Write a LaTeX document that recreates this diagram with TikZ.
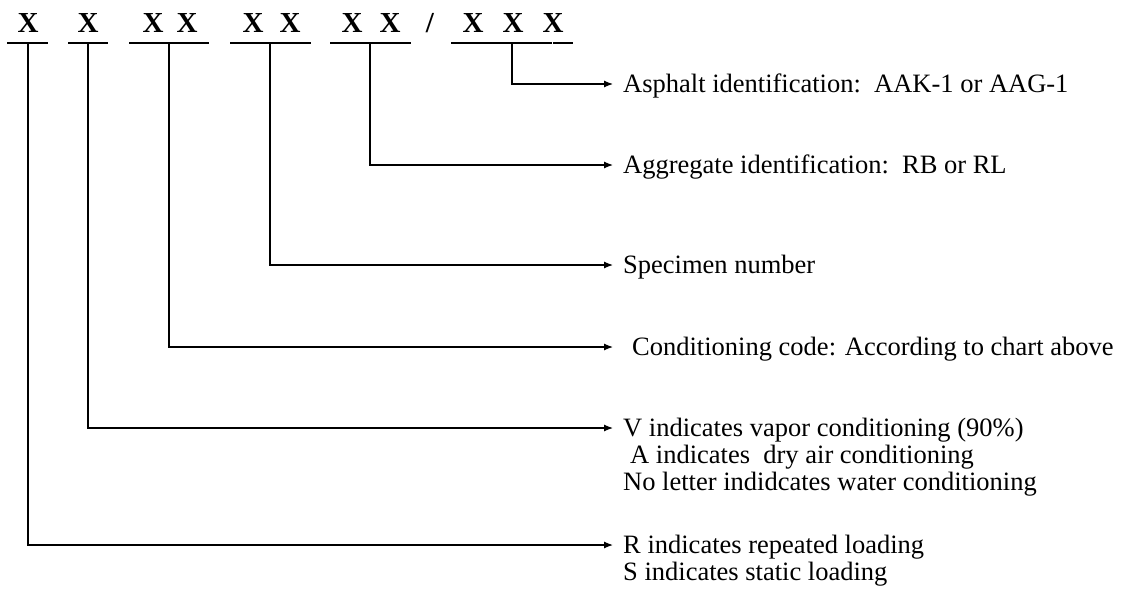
\documentclass[tikz,border=0pt]{standalone}
\usepackage{fontspec}
\setmainfont{Liberation Serif}
\usetikzlibrary{positioning,arrows.meta}
\tikzset{
    code/.style={font=\fontsize{29}{29}\selectfont\bfseries, inner sep=0pt, anchor=base},
    uline/.style={line width=1.2pt},
    lbl/.style={font=\fontsize{26.5}{28}\selectfont, inner sep=0pt, text height=17.5pt, text depth=0pt, anchor=west},
    ptr/.style={line width=1.2pt, -{Latex[length=9pt,width=7pt]}}
}

\begin{document}
\begin{tikzpicture}[x=1pt, y=-1pt]
    \useasboundingbox (0,0) rectangle (1141,594);

    % code letters
    \node[code] (xR) at (28,33) {X};
    \node[code] (xV) at (88,33) {X};
    \node[code] (xCa) at (153,33) {X};
    \node[code] (xCb) at (187,33) {X};
    \node[code] (xSa) at (253,33) {X};
    \node[code] (xSb) at (290,33) {X};
    \node[code] (xAa) at (352,33) {X};
    \node[code] (xAb) at (390,33) {X};
    \node[code] (slash) at (430,33) {/};
    \node[code] (xBa) at (473,33) {X};
    \node[code] (xBb) at (513,33) {X};
    \node[code] (xBc) at (553,33) {X};

    % underlines
    \foreach \a/\b in {7/48, 68/108, 129/209, 230/311, 330/411, 451/552, 553/573}
        \draw[uline] (\a,43) -- (\b,43);

    \coordinate (gR) at (28,43);
    \coordinate (gV) at (88,43);
    \coordinate (gC) at (169,43);
    \coordinate (gS) at (270,43);
    \coordinate (gA) at (370,43);
    \coordinate (gB) at (512,43);

    % labels
    \node[lbl] (asph) at (623,84) {Asphalt identification:\ \ AAK-1 or AAG-1};
    \node[lbl] (aggr) at (623,165) {Aggregate identification:\ \ RB or RL};
    \node[lbl] (spec) at (623,265) {Specimen number};
    \node[lbl] (cond) at (632,347) {Conditioning code: According to chart above};
    \node[lbl] (vap) at (623,428) {V indicates vapor conditioning (90\%)};
    \node[lbl, below=9pt of vap.south west, anchor=north west, xshift=7pt] (dry) {A indicates\ \ dry air conditioning};
    \node[lbl, below=9pt of dry.south west, anchor=north west, xshift=-7pt] (wat) {No letter indidcates water conditioning};
    \node[lbl] (rep) at (623,545) {R indicates repeated loading};
    \node[lbl, below=9pt of rep.south west, anchor=north west] (sta) {S indicates static loading};

    % connectors
    \draw[ptr] (gB) |- ([xshift=-10pt]asph.west);
    \draw[ptr] (gA) |- ([xshift=-10pt]aggr.west);
    \draw[ptr] (gS) |- ([xshift=-10pt]spec.west);
    \draw[ptr] (gC) |- ([xshift=-19pt]cond.west);
    \draw[ptr] (gV) |- ([xshift=-10pt]vap.west);
    \draw[ptr] (gR) |- ([xshift=-10pt]rep.west);
\end{tikzpicture}
\end{document}
